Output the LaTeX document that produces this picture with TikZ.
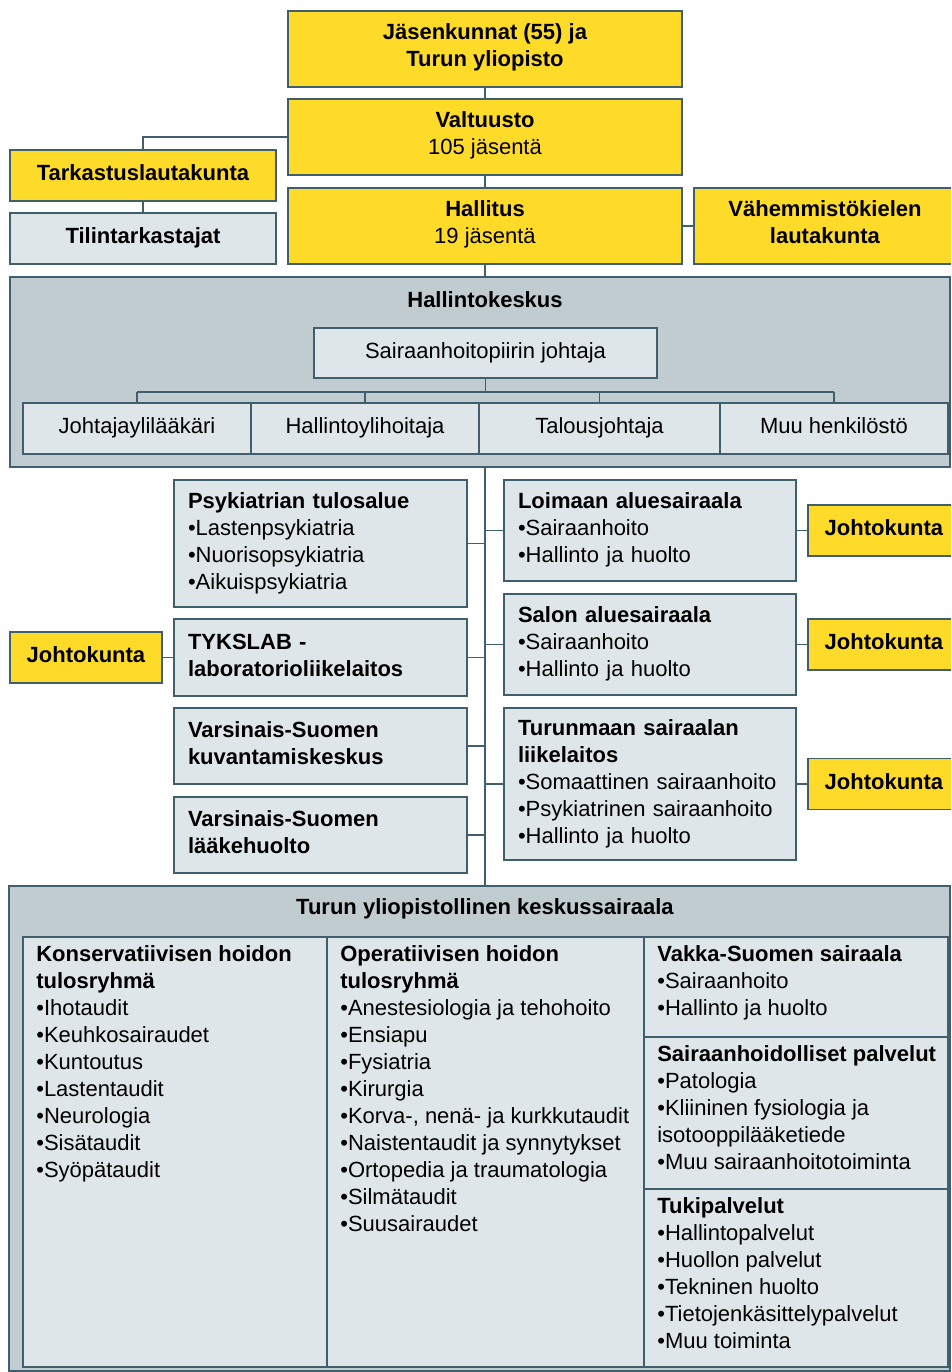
\documentclass[tikz,border=0pt]{standalone}
\usepackage{fontspec}
\setmainfont{Liberation Sans}
\definecolor{gold}{HTML}{FFDB29}
\definecolor{pale}{HTML}{DFE6E9}
\definecolor{slate}{HTML}{C1CCD1}
\definecolor{edge}{HTML}{3F5F6D}

\begin{document}
\begin{tikzpicture}[x=1pt,y=-1pt,
  font=\fontsize{22}{27}\selectfont,
  box/.style={draw=edge,line width=1.8pt,rectangle,inner sep=0pt,
    execute at begin node={\noindent\strut},execute at end node=\strut},
  gbox/.style={box,fill=gold,align=center},
  pbox/.style={box,fill=pale,align=center},
  unit/.style={box,fill=pale,align=left,inner xsep=14pt,text width=265pt},
  list/.style={anchor=north west,align=left,inner sep=0pt,
    execute at begin node={\noindent\strut},execute at end node=\strut},
  link/.style={draw=edge,line width=1.6pt}]

  \useasboundingbox (0,0) rectangle (951,1372);
  \clip (0,0) rectangle (951,1372);
  \coordinate (sp) at (485,0);

  \node [gbox,minimum width=394,minimum height=76] (jas) at (485,49)
    {\textbf{Jäsenkunnat (55) ja}\\\textbf{Turun yliopisto}};
  \node [gbox,minimum width=394,minimum height=76] (valt) at (485,137)
    {\textbf{Valtuusto}\\105 jäsentä};
  \node [gbox,minimum width=394,minimum height=76] (hall) at (485,226)
    {\textbf{Hallitus}\\19 jäsentä};
  \node [gbox,minimum width=262,minimum height=76] (vah) at (825,226)
    {\textbf{Vähemmistökielen}\\\textbf{lautakunta}};
  \node [gbox,minimum width=266,minimum height=51] (tark) at (143,175.5)
    {\textbf{Tarkastuslautakunta}};
  \node [pbox,minimum width=266,minimum height=51] (tili) at (143,238.5)
    {\textbf{Tilintarkastajat}};

  \node [box,fill=slate,minimum width=940,minimum height=190] (hk) at (480,372) {};
  \node (hkt) at (485,300) {\textbf{Hallintokeskus}};
  \node [pbox,minimum width=343,minimum height=50] (joht) at (485.5,353)
    {Sairaanhoitopiirin johtaja};
  \node [pbox,minimum width=228,minimum height=51] (c1) at (137,428.5) {Johtajaylilääkäri};
  \node [pbox,minimum width=228,minimum height=51] (c2) at (365,428.5) {Hallintoylihoitaja};
  \node [pbox,minimum width=241,minimum height=51] (c3) at (599.5,428.5) {Talousjohtaja};
  \node [pbox,minimum width=228,minimum height=51] (c4) at (834,428.5) {Muu henkilöstö};

  \node [unit,minimum height=127] (psy) at (320.5,543.5)
    {\textbf{Psykiatrian tulosalue}\\•Lastenpsykiatria\\•Nuorisopsykiatria\\•Aikuispsykiatria};
  \node [unit,minimum height=77] (lab) at (320.5,657.5)
    {\textbf{TYKSLAB -}\\\textbf{laboratorioliikelaitos}};
  \node [unit,minimum height=76] (kuv) at (320.5,746)
    {\textbf{Varsinais-Suomen}\\\textbf{kuvantamiskeskus}};
  \node [unit,minimum height=76] (laa) at (320.5,835)
    {\textbf{Varsinais-Suomen}\\\textbf{lääkehuolto}};
  \node [gbox,minimum width=152,minimum height=51] (j0) at (86,657.5) {\textbf{Johtokunta}};

  \node [unit,text width=264,minimum height=101] (loi) at (650,530.5)
    {\textbf{Loimaan aluesairaala}\\•Sairaanhoito\\•Hallinto ja huolto};
  \node [unit,text width=264,minimum height=101] (sal) at (650,644.5)
    {\textbf{Salon aluesairaala}\\•Sairaanhoito\\•Hallinto ja huolto};
  \node [unit,text width=264,minimum height=152] (tur) at (650,784)
    {\textbf{Turunmaan sairaalan}\\\textbf{liikelaitos}\\•Somaattinen sairaanhoito\\•Psykiatrinen sairaanhoito\\•Hallinto ja huolto};
  \node [gbox,minimum width=152,minimum height=51] (j1) at (884,530.5) {\textbf{Johtokunta}};
  \node [gbox,minimum width=152,minimum height=51] (j2) at (884,644.5) {\textbf{Johtokunta}};
  \node [gbox,minimum width=152,minimum height=51] (j3) at (884,784) {\textbf{Johtokunta}};

  \node [box,fill=slate,minimum width=941,minimum height=485] (tyks) at (479.5,1128.5) {};
  \node (tyt) at (485,909) {\textbf{Turun yliopistollinen keskussairaala}};
  \node [pbox,minimum width=304,minimum height=430] (kons) at (175,1152) {};
  \node [pbox,minimum width=317,minimum height=430] (oper) at (485.5,1152) {};
  \node [pbox,minimum width=304,minimum height=100] (vak) at (796,987) {};
  \node [pbox,minimum width=304,minimum height=152] (spal) at (796,1113) {};
  \node [pbox,minimum width=304,minimum height=178] (tuki) at (796,1278) {};

  \node [list] (konst) at ([shift={(14,9)}]kons.north west)
    {\textbf{Konservatiivisen hoidon}\\\textbf{tulosryhmä}\\•Ihotaudit\\•Keuhkosairaudet\\•Kuntoutus\\•Lastentaudit\\•Neurologia\\•Sisätaudit\\•Syöpätaudit};
  \node [list] (opert) at ([shift={(14,9)}]oper.north west)
    {\textbf{Operatiivisen hoidon}\\\textbf{tulosryhmä}\\•Anestesiologia ja tehohoito\\•Ensiapu\\•Fysiatria\\•Kirurgia\\•Korva-, nenä- ja kurkkutaudit\\•Naistentaudit ja synnytykset\\•Ortopedia ja traumatologia\\•Silmätaudit\\•Suusairaudet};
  \node [list] (vakt) at ([shift={(14,9)}]vak.north west)
    {\textbf{Vakka-Suomen sairaala}\\•Sairaanhoito\\•Hallinto ja huolto};
  \node [list] (spalt) at ([shift={(14,9)}]spal.north west)
    {\textbf{Sairaanhoidolliset palvelut}\\•Patologia\\•Kliininen fysiologia ja\\isotooppilääketiede\\•Muu sairaanhoitotoiminta};
  \node [list] (tukit) at ([shift={(14,9)}]tuki.north west)
    {\textbf{Tukipalvelut}\\•Hallintopalvelut\\•Huollon palvelut\\•Tekninen huolto\\•Tietojenkäsittelypalvelut\\•Muu toiminta};

  \draw [link] (jas) -- (valt);
  \draw [link] (valt) -- (hall);
  \draw [link] (valt.west) -| (tark.north);
  \draw [link] (tark) -- (tili);
  \draw [link] (hall) -- (vah);
  \draw [link] (hall.south) -- (hall.south |- hk.north);

  \draw [link] (joht.south) -- ++(0,13) coordinate (bar);
  \draw [link] (bar -| c1.north) -- (bar -| c4.north);
  \foreach \c in {c1,c2,c3,c4}
    \draw [link] (bar -| \c.north) -- (\c.north);

  \draw [link] (hk.south -| sp) -- (tyks.north -| sp);
  \foreach \u in {psy,lab,kuv,laa}
    \draw [link] (\u.east) -- (\u.east -| sp);
  \foreach \u in {loi,sal,tur}
    \draw [link] (\u.west) -- (\u.west -| sp);
  \draw [link] (j0) -- (lab);
  \draw [link] (loi) -- (j1);
  \draw [link] (sal) -- (j2);
  \draw [link] (tur) -- (j3);
\end{tikzpicture}
\end{document}
